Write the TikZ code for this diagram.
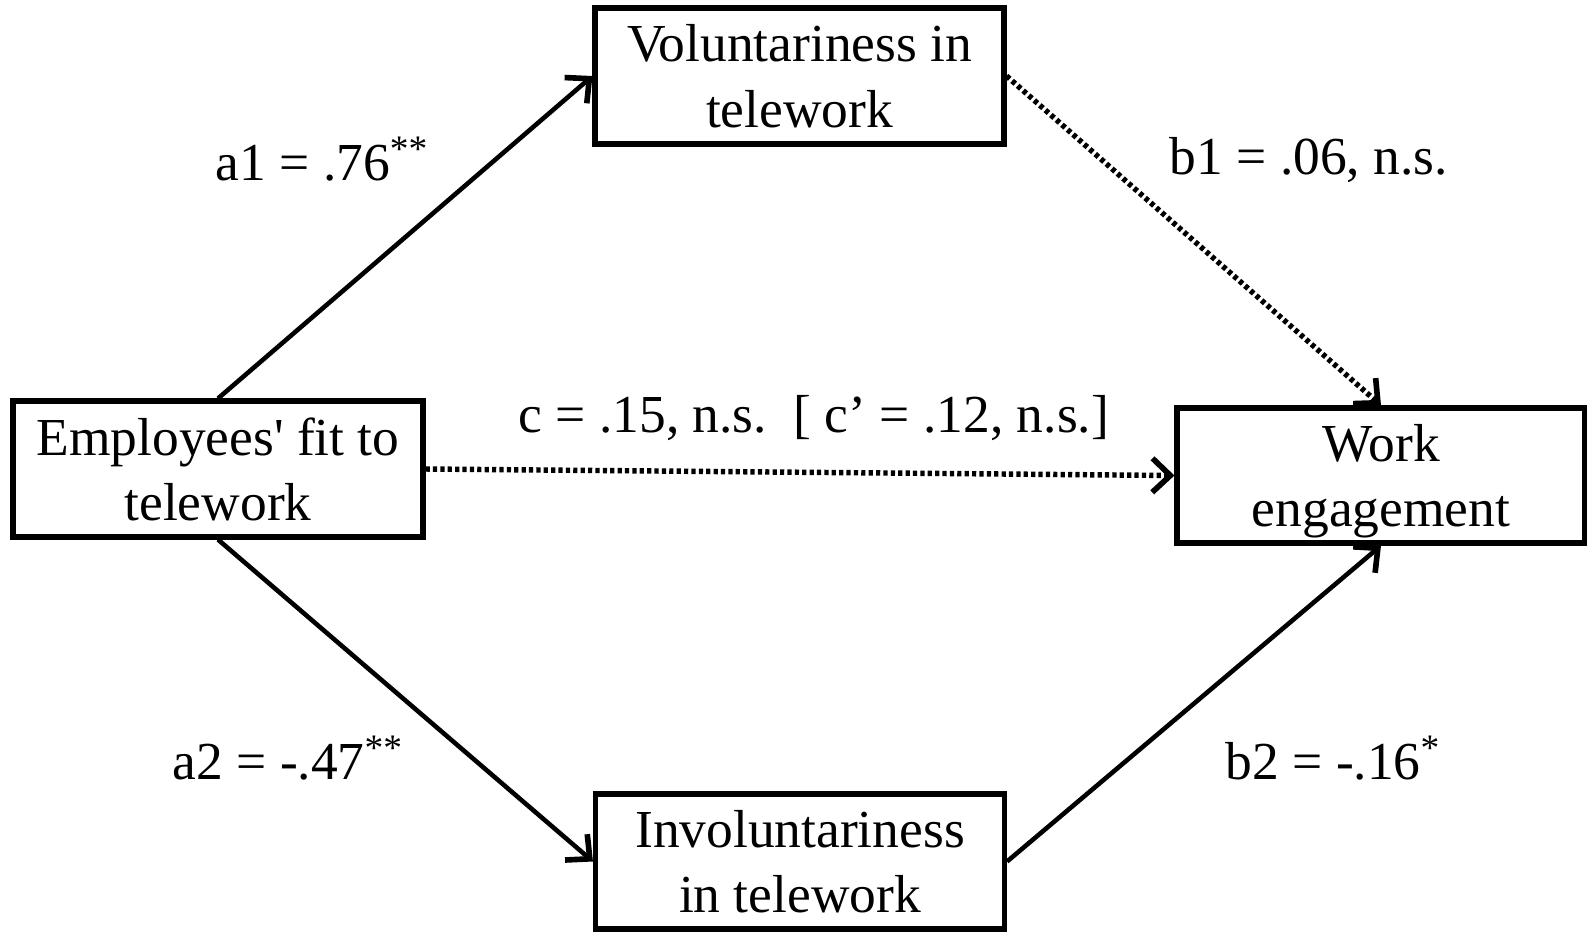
\documentclass[tikz,border=0pt]{standalone}
\usepackage{fontspec}
\setmainfont{Liberation Serif}[Ligatures=TeXOff]
\usetikzlibrary{arrows.meta}
\begin{document}
\begin{tikzpicture}[x=0.01cm,y=-0.01cm,
  box/.style={draw,line width=1.45pt,rectangle,align=center,inner sep=0pt,text depth=0pt,
    font=\fontsize{15.2}{18.6}\selectfont},
  conn/.style={line width=1.3pt,-{Straight Barb[length=1.8mm,width=3.4mm,line width=1.6pt]}},
  dotconn/.style={conn,line width=1.55pt,dash pattern=on 1.2pt off 0.9pt},
  lab/.style={anchor=base west,inner sep=0pt,font=\fontsize{15.2}{18.6}\selectfont}]
\useasboundingbox (0,0) rectangle (1587,933);
\node[box,minimum width=409*0.01cm,minimum height=136*0.01cm] (vol) at (799.5,76) {Voluntariness in\\telework};
\node[box,minimum width=410*0.01cm,minimum height=136*0.01cm] (emp) at (218,469) {Employees' fit to\\telework};
\node[box,minimum width=408*0.01cm,minimum height=135*0.01cm,text depth=-1.5pt] (work) at (1381,475.5) {Work\\engagement};
\node[box,minimum width=409*0.01cm,minimum height=135*0.01cm] (inv) at (800,861.5) {Involuntariness\\in telework};
\draw[conn] (emp.north) -- (vol.west);
\draw[conn] (emp.south) -- (inv.west);
\draw[dotconn] (vol.east) -- (work.north);
\draw[conn] (inv.east) -- (work.south);
\draw[dotconn] (emp.east) -- (work.west);
\node[lab] (la1) at (215,180) {a1 = .76\textsuperscript{**}};
\node[lab] (la2) at (172,779) {a2 = -.47\textsuperscript{**}};
\node[lab] (lb1) at (1169,174) {b1 = .06, n.s.};
\node[lab] (lb2) at (1225,779) {b2 = -.16\textsuperscript{*}};
\node[lab] (lc) at (518,432) {c = .15, n.s.\ \ [ c’ = .12, n.s.]};
\end{tikzpicture}
\end{document}
